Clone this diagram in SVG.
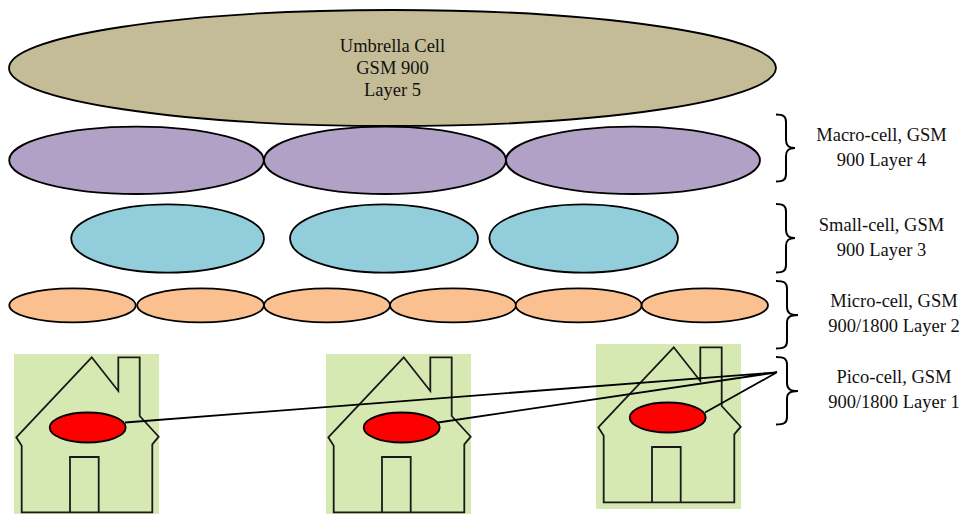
<svg xmlns="http://www.w3.org/2000/svg" xmlns:xlink="http://www.w3.org/1999/xlink" width="963" height="514" viewBox="0 0 963 514">
<style>
.c{stroke:#000;stroke-width:1.8}
.u{fill:#C4BC96}.m{fill:#B2A1C7}.s{fill:#92CDDC}.o{fill:#FAC090}.r{fill:#F00}
.h{fill:none;stroke:#1a1a1a;stroke-width:1.8}
.b{fill:#D7E9B3}
.br{fill:none;stroke:#000;stroke-width:2}
text{font-family:"Liberation Serif","Times New Roman",serif;font-size:18.5px;fill:#111;text-anchor:middle}
</style>
<defs>
<g id="house">
<path class="h" d="M91.7 357.3L118.3 391V357.3H139.7V416L158.7 436.7L152.3 444.3V512.3H21.7V445.7L16.3 437.3Z"/>
<path class="h" d="M70 512.3V457H98.7V512.3"/>
</g>
</defs>
<g id="umbrella"><ellipse class="c u" cx="392.500" cy="68" rx="383.500" ry="58"/><text x="392.500" y="52">Umbrella Cell</text><text x="392.500" y="74">GSM 900</text><text x="392.500" y="96">Layer 5</text></g>
<g id="macro">
<ellipse class="c m" cx="136.500" cy="160.300" rx="127.300" ry="33.700"/>
<ellipse class="c m" cx="385" cy="160.300" rx="121" ry="33.700"/>
<ellipse class="c m" cx="633" cy="160.300" rx="127" ry="33.700"/>
</g>
<g id="small">
<ellipse class="c s" cx="167.600" cy="238.500" rx="96.400" ry="34.200"/>
<ellipse class="c s" cx="384" cy="238.500" rx="94" ry="34.200"/>
<ellipse class="c s" cx="583.700" cy="238.500" rx="94.300" ry="34.200"/>
</g>
<g id="micro">
<ellipse class="c o" cx="72.500" cy="305.300" rx="63.200" ry="17"/>
<ellipse class="c o" cx="200.600" cy="305.300" rx="63.400" ry="17"/>
<ellipse class="c o" cx="327" cy="305.300" rx="63" ry="17"/>
<ellipse class="c o" cx="453" cy="305.300" rx="63" ry="17"/>
<ellipse class="c o" cx="578.700" cy="305.300" rx="63" ry="17"/>
<ellipse class="c o" cx="704.800" cy="305.300" rx="63.200" ry="17"/>
</g>
<g id="house1"><rect class="b" x="14" y="354" width="145" height="160"/><use xlink:href="#house" href="#house"/><ellipse class="c r" cx="87.700" cy="427.500" rx="38" ry="15"/></g>
<g id="house2"><rect class="b" x="326" y="354" width="145" height="160"/><use xlink:href="#house" href="#house" x="312"/><ellipse class="c r" cx="401.700" cy="427.500" rx="38" ry="15"/></g>
<g id="house3"><rect class="b" x="596" y="344" width="145" height="165"/><use xlink:href="#house" href="#house" x="582" y="-10"/><ellipse class="c r" cx="667.700" cy="417.500" rx="38" ry="15"/></g>
<g id="connectors">
<path class="c" fill="none" d="M125 422.500L777 372.300M438 422.500L777 372.300M705 412.500L777 372.300"/>
</g>
<g id="braces">
<path class="br" d="M776 114.500C783 114.500 786 116 786 122V140C786 146 789 148 795 148C789 148 786 150 786 156V174C786 180 783 181.500 776 181.500"/>
<path class="br" d="M776 204C783 204 786 205.500 786 211.500V230C786 236 789 238 795 238C789 238 786 240 786 246V265C786 271 783 272.500 776 272.500"/>
<path class="br" d="M776 281C784 281 787 282.500 787 288.500V307C787 313 790 315 798 315C790 315 787 317 787 323V341C787 347 784 348.500 776 348.500"/>
<path class="br" d="M776 357C784 357 787 358.500 787 364.500V383C787 389 790 391 798 391C790 391 787 393 787 399V417C787 423 784 424.500 776 424.500"/>
</g>
<g id="labels">
<text x="881.500" y="141">Macro-cell, GSM</text><text x="881.500" y="166">900 Layer 4</text>
<text x="881.500" y="231">Small-cell, GSM</text><text x="881.500" y="256">900 Layer 3</text>
<text x="894" y="307">Micro-cell, GSM</text><text x="894" y="332">900/1800 Layer 2</text>
<text x="894" y="383">Pico-cell, GSM</text><text x="894" y="408">900/1800 Layer 1</text>
</g>
</svg>
